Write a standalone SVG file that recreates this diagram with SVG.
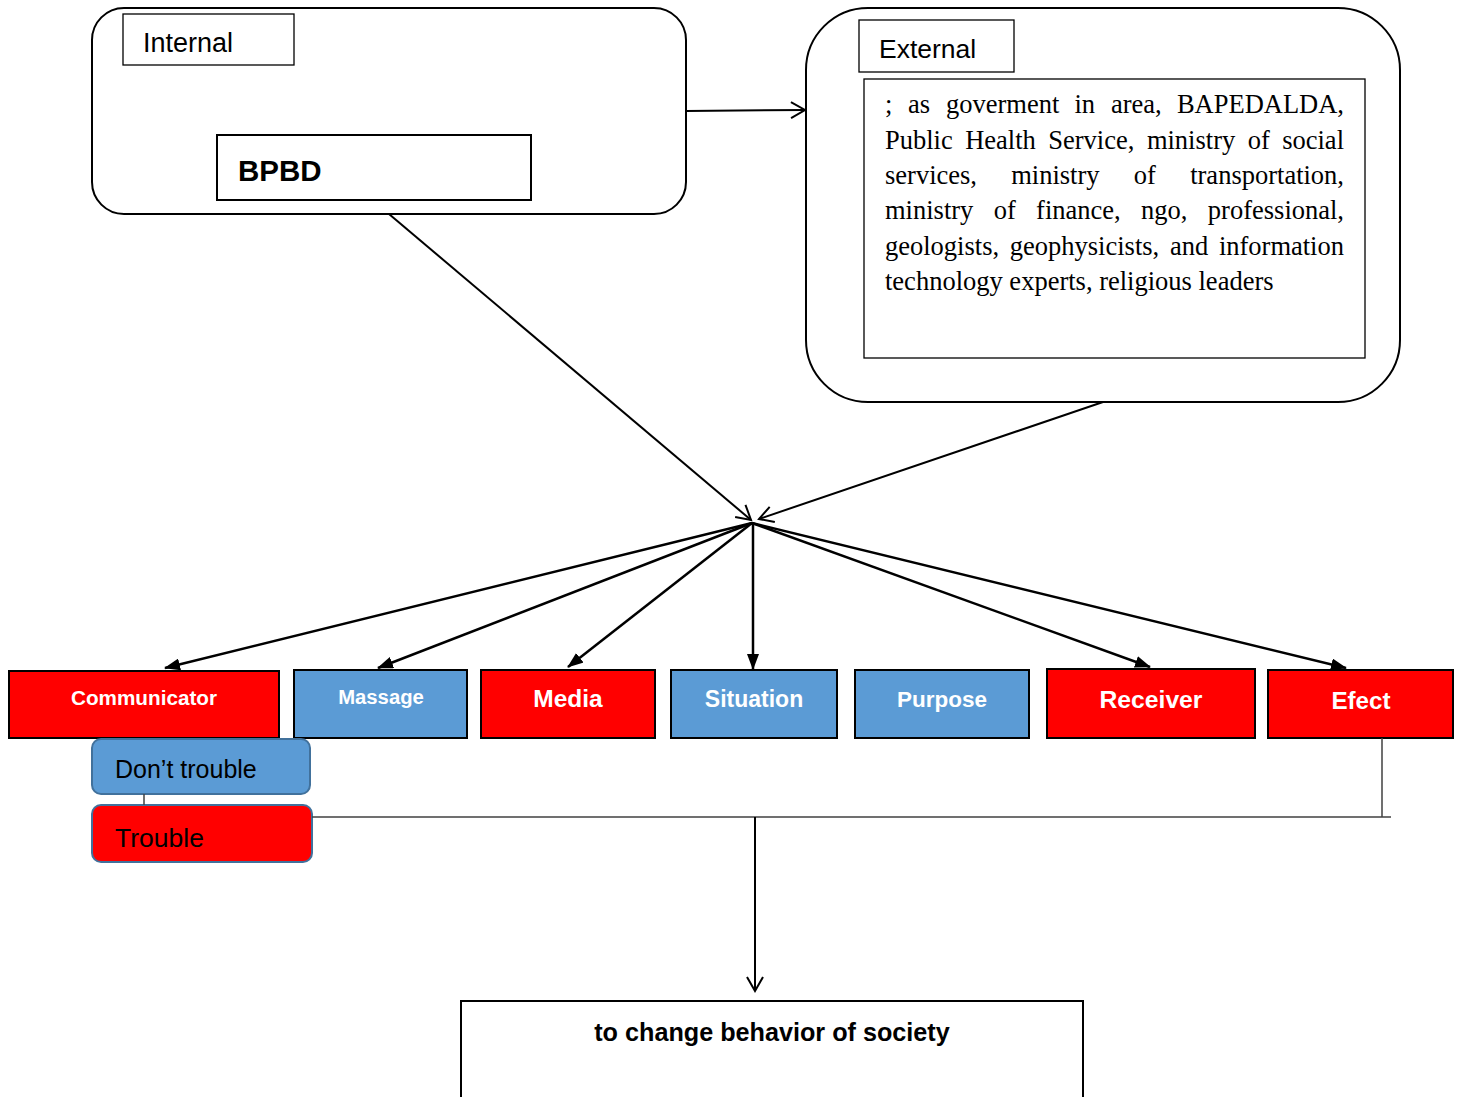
<svg xmlns="http://www.w3.org/2000/svg" width="1458" height="1097" viewBox="0 0 1458 1097">
<style>
.sans{font-family:"Liberation Sans",Arial,sans-serif}
.serif{font-family:"Liberation Serif","Times New Roman",serif;font-size:26.5px;fill:#000}
.box{fill:#fff;stroke:#000;stroke-width:2}
.lbl{fill:#fff;stroke:#000;stroke-width:1.3}
.red{fill:#ff0000;stroke:#000;stroke-width:2}
.blue{fill:#5b9bd5;stroke:#000;stroke-width:2}
.wt{fill:#fff;font-weight:bold;text-anchor:middle}
.conn{stroke:#000;stroke-width:2;fill:none}
.thin{stroke:#404040;stroke-width:1.5;fill:none}
</style>
<defs>
<marker id="open" markerUnits="userSpaceOnUse" markerWidth="20" markerHeight="20" viewBox="0 0 20 20" refX="18" refY="10" orient="auto">
<path d="M4,2 L18,10 L4,18" fill="none" stroke="#000" stroke-width="2"/>
</marker>
<marker id="fill" markerUnits="userSpaceOnUse" markerWidth="16" markerHeight="12" viewBox="0 0 16 12" refX="15" refY="6" orient="auto">
<path d="M0,0 L16,6 L0,12 z" fill="#000"/>
</marker>
</defs>
<rect width="1458" height="1097" fill="#fff"/>

<g id="internal">
<rect class="box" x="92" y="8" width="594" height="206" rx="32"/>
<rect class="lbl" x="123" y="14" width="171" height="51"/>
<text class="sans" x="143" y="52" font-size="27">Internal</text>
<rect class="box" x="217" y="135" width="314" height="65"/>
<text class="sans" x="238" y="181" font-size="29.5" font-weight="bold">BPBD</text>
</g>

<g id="external">
<rect class="box" x="806" y="8" width="594" height="394" rx="62"/>
<rect class="lbl" x="859" y="20" width="155" height="52"/>
<text class="sans" x="879" y="58" font-size="26.5">External</text>
<rect class="lbl" x="864" y="79" width="501" height="279"/>
<text class="serif" y="113"><tspan x="885">;</tspan><tspan x="908">as</tspan><tspan x="946">goverment</tspan><tspan x="1074.5">in</tspan><tspan x="1111">area,</tspan><tspan x="1344" text-anchor="end">BAPEDALDA,</tspan></text>
<text class="serif" y="149"><tspan x="885">Public</tspan><tspan x="965.2">Health</tspan><tspan x="1048.3">Service,</tspan><tspan x="1146.9">ministry</tspan><tspan x="1247.7">of</tspan><tspan x="1344" text-anchor="end">social</tspan></text>
<text class="serif" y="184"><tspan x="885">services,</tspan><tspan x="1011.2">ministry</tspan><tspan x="1133.8">of</tspan><tspan x="1344" text-anchor="end">transportation,</tspan></text>
<text class="serif" y="219"><tspan x="885">ministry</tspan><tspan x="993.7">of</tspan><tspan x="1036.1">finance,</tspan><tspan x="1141">ngo,</tspan><tspan x="1344" text-anchor="end">professional,</tspan></text>
<text class="serif" y="255"><tspan x="885">geologists,</tspan><tspan x="1009.8">geophysicists,</tspan><tspan x="1169.9">and</tspan><tspan x="1344" text-anchor="end">information</tspan></text>
<text class="serif" x="885" y="290">technology experts, religious leaders</text>
</g>

<g id="communicator">
<rect class="red" x="9" y="671" width="270" height="67"/>
<text class="sans wt" x="144" y="705" font-size="20.7">Communicator</text>
</g>
<g id="massage">
<rect class="blue" x="294" y="670" width="173" height="68"/>
<text class="sans wt" x="381" y="704" font-size="20.3">Massage</text>
</g>
<g id="media">
<rect class="red" x="481" y="670" width="174" height="68"/>
<text class="sans wt" x="568" y="707" font-size="24.5">Media</text>
</g>
<g id="situation">
<rect class="blue" x="671" y="670" width="166" height="68"/>
<text class="sans wt" x="754" y="707" font-size="23">Situation</text>
</g>
<g id="purpose">
<rect class="blue" x="855" y="670" width="174" height="68"/>
<text class="sans wt" x="942" y="707" font-size="22.5">Purpose</text>
</g>
<g id="receiver">
<rect class="red" x="1047" y="669" width="208" height="69"/>
<text class="sans wt" x="1151" y="708" font-size="24.7">Receiver</text>
</g>
<g id="efect">
<rect class="red" x="1268" y="670" width="185" height="68"/>
<text class="sans wt" x="1361" y="709" font-size="24.2">Efect</text>
</g>

<g id="dont-trouble">
<rect x="92" y="739" width="218" height="55" rx="9" fill="#5b9bd5" stroke="#41719c" stroke-width="2"/>
<text class="sans" x="115" y="778" font-size="25">Don’t trouble</text>
</g>
<g id="trouble">
<rect x="92" y="805" width="220" height="57" rx="9" fill="#ff0000" stroke="#41719c" stroke-width="2"/>
<text class="sans" x="115" y="847" font-size="26.5">Trouble</text>
</g>

<g id="result">
<rect class="box" x="461" y="1001" width="622" height="110"/>
<text class="sans" x="772" y="1041" font-size="25.2" font-weight="bold" text-anchor="middle">to change behavior of society</text>
</g>

<g id="connectors">
<line class="conn" x1="686" y1="111" x2="805" y2="110" marker-end="url(#open)"/>
<line class="conn" x1="389" y1="214" x2="751" y2="520" marker-end="url(#open)"/>
<line class="conn" x1="1103" y1="402" x2="759" y2="519" marker-end="url(#open)"/>
<g stroke="#000" stroke-width="2.5" fill="none">
<line x1="752" y1="523" x2="165" y2="668" marker-end="url(#fill)"/>
<line x1="752" y1="523" x2="378" y2="668" marker-end="url(#fill)"/>
<line x1="752" y1="523" x2="568" y2="667" marker-end="url(#fill)"/>
<line x1="753" y1="523" x2="753" y2="669" marker-end="url(#fill)"/>
<line x1="752" y1="523" x2="1150" y2="667" marker-end="url(#fill)"/>
<line x1="752" y1="523" x2="1346" y2="668" marker-end="url(#fill)"/>
</g>
<line class="thin" x1="144" y1="794" x2="144" y2="805"/>
<line class="thin" x1="312" y1="817" x2="1391" y2="817"/>
<line class="thin" x1="1382" y1="738" x2="1382" y2="817"/>
<line class="conn" x1="755" y1="817" x2="755" y2="991" marker-end="url(#open)"/>
</g>
</svg>
